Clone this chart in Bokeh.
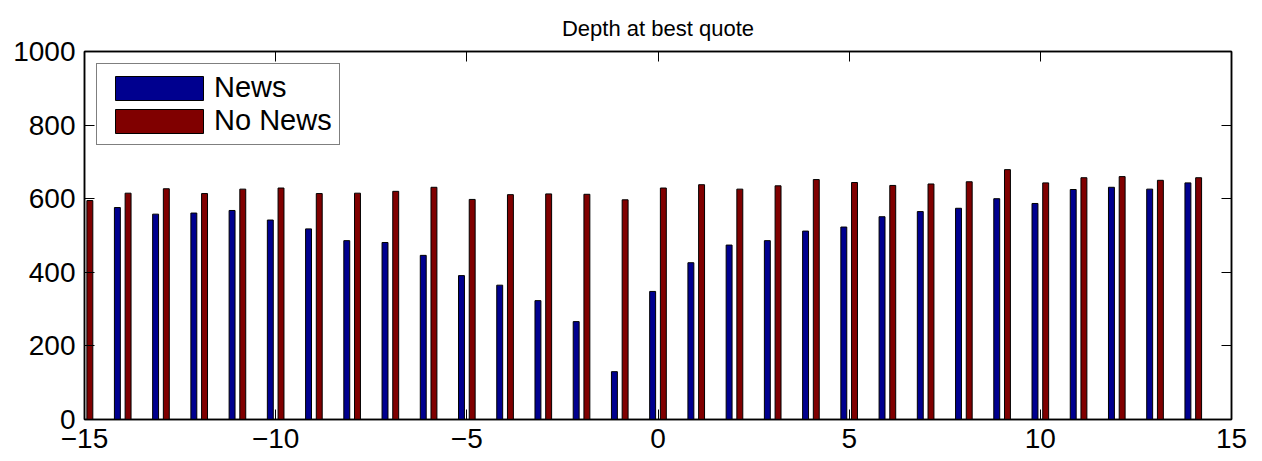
from bokeh.plotting import figure
from bokeh.models import (Range1d, LinearAxis, FixedTicker, ColumnDataSource,
                          Legend, LegendItem)
from bokeh.transform import dodge
from bokeh.embed import file_html
from bokeh.resources import INLINE

# ---- data ----
event_time = list(range(-15, 15))
news = [float("nan"), 576, 558, 561, 568, 542, 518, 486, 481, 446,
        391, 365, 323, 266, 130, 348, 426, 474, 486, 512,
        523, 551, 565, 574, 600, 587, 625, 631, 626, 643]
no_news = [595, 615, 627, 614, 626, 629, 614, 615, 620, 631,
           598, 611, 613, 612, 597, 629, 638, 626, 635, 652,
           644, 636, 640, 646, 679, 643, 657, 660, 650, 657]
x_ticks = [-15, -10, -5, 0, 5, 10, 15]
y_ticks = [0, 200, 400, 600, 800, 1000]
series_names = ["News", "No News"]
title_text = "Depth at best quote"

BLUE = "#00008F"
RED = "#800000"
FONT = "Liberation Sans"

src = ColumnDataSource(dict(x=event_time, news=news, no_news=no_news))

p = figure(width=1262, height=461, output_backend="svg", toolbar_location=None,
           x_range=Range1d(-15, 15), y_range=Range1d(0, 1000),
           min_border_left=84, min_border_right=31,
           min_border_top=51, min_border_bottom=42,
           background_fill_color="white", border_fill_color="white")

p.title.text = title_text
p.title.align = "center"
p.title.text_font = FONT
p.title.text_font_size = "22px"
p.title.text_font_style = "normal"
p.title.text_color = "black"
p.title.standoff = 22

p.xgrid.visible = False
p.ygrid.visible = False
p.outline_line_color = "black"
p.outline_line_width = 1.5

r1 = p.vbar(x=dodge("x", -0.14, range=p.x_range), top="news", width=0.155,
            source=src, fill_color=BLUE, line_color="black", line_width=1)
r2 = p.vbar(x=dodge("x", 0.14, range=p.x_range), top="no_news", width=0.155,
            source=src, fill_color=RED, line_color="black", line_width=1)

def style_axis(ax, labels=True):
    ax.axis_line_color = "black"
    ax.axis_line_width = 1.5
    ax.major_tick_in = 10
    ax.major_tick_out = 0
    ax.major_tick_line_color = "black"
    ax.major_tick_line_width = 1
    ax.minor_tick_line_color = None
    ax.major_label_text_font = FONT
    if labels:
        ax.major_label_text_color = "black"
        ax.major_label_text_font_size = "28px"
    else:
        ax.major_label_text_color = None
        ax.major_label_text_font_size = "1px"
        ax.major_label_standoff = 0

xlabels = {t: (("\u2212" + str(abs(t))) if t < 0 else str(t)) for t in x_ticks}

p.xaxis.ticker = FixedTicker(ticks=x_ticks)
p.xaxis.major_label_overrides = xlabels
style_axis(p.xaxis[0])
p.xaxis.major_label_standoff = 9

p.yaxis.ticker = FixedTicker(ticks=y_ticks)
style_axis(p.yaxis[0])
p.yaxis.major_label_standoff = 9

top_ax = LinearAxis(ticker=FixedTicker(ticks=x_ticks))
style_axis(top_ax, labels=False)
p.add_layout(top_ax, "above")

right_ax = LinearAxis(ticker=FixedTicker(ticks=y_ticks))
style_axis(right_ax, labels=False)
p.add_layout(right_ax, "right")

legend = Legend(items=[LegendItem(label=series_names[0], renderers=[r1]),
                       LegendItem(label=series_names[1], renderers=[r2])],
                location="top_left", margin=12, padding=7,
                glyph_width=110, glyph_height=30, label_height=30,
                spacing=0, label_standoff=0,
                label_text_font=FONT, label_text_font_size="29px",
                label_text_line_height=0.9,
                label_text_color="black",
                border_line_color="black", border_line_width=1.5,
                background_fill_color="white", background_fill_alpha=1)
p.add_layout(legend, "center")

open("out.html", "w").write(file_html(p, INLINE))
